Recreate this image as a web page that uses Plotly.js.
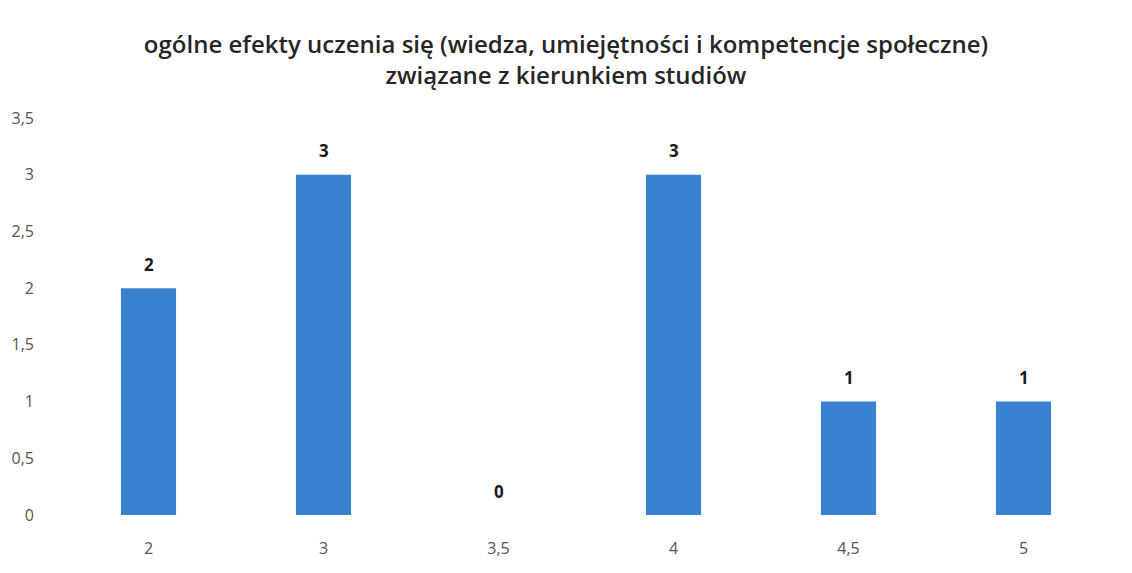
<!DOCTYPE html>
<html>
<head>
<meta charset="utf-8">
<script src="https://cdn.plot.ly/plotly-3.0.1.min.js"></script>
<style>html,body{margin:0;padding:0;background:#fff}#chart{width:1132px;height:573px}</style>
</head>
<body>
<div id="chart"></div>
<script>
const categories = ["2", "3", "3,5", "4", "4,5", "5"];
const values = [2, 3, 0, 3, 1, 1];
const yTickVals = [0, 0.5, 1, 1.5, 2, 2.5, 3, 3.5];
const yTickText = ["0", "0,5", "1", "1,5", "2", "2,5", "3", "3,5"];
const titleText = "ogólne efekty uczenia się (wiedza, umiejętności i kompetencje społeczne)<br>związane z kierunkiem studiów";

const annotations = categories.map((c, i) => ({
  x: i, y: values[i], xref: 'x', yref: 'y',
  text: '<b>' + values[i] + '</b>', showarrow: false,
  yanchor: 'middle', yshift: 24,
  font: {family: 'Open Sans, sans-serif', size: 17, color: '#1a1a1a'}
}));

Plotly.newPlot('chart', [{
  type: 'bar', x: categories, y: values,
  marker: {color: '#3a82d0'}, width: 0.315, hoverinfo: 'none'
}], {
  width: 1132, height: 573,
  margin: {l: 61, r: 21, t: 118, b: 58},
  paper_bgcolor: '#fff', plot_bgcolor: '#fff',
  showlegend: false,
  title: {
    text: titleText,
    x: 0.5, xanchor: 'center', y: 0.907, yanchor: 'middle',
    font: {family: 'Open Sans, sans-serif', size: 24, weight: 600, color: '#262626'}
  },
  xaxis: {
    type: 'category', showgrid: false, zeroline: false, showline: false,
    ticks: '', ticklabelstandoff: 22,
    tickfont: {family: 'Open Sans, sans-serif', size: 16, color: '#555'}
  },
  yaxis: {
    range: [0, 3.5], tickvals: yTickVals, ticktext: yTickText,
    showgrid: false, zeroline: false, showline: false, ticks: '',
    ticklabelstandoff: 26,
    tickfont: {family: 'Open Sans, sans-serif', size: 16, color: '#555'}
  },
  annotations: annotations
}, {staticPlot: true});
</script>
</body>
</html>
